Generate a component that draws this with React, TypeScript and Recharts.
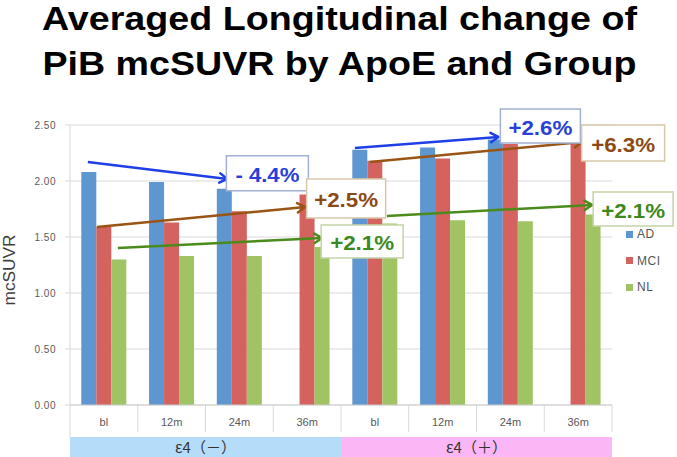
import { BarChart, Bar, XAxis, YAxis, CartesianGrid, Legend, ReferenceLine, ReferenceDot } from 'recharts'

// PiB mcSUVR by ApoE status and diagnostic group

const TIMES = ['bl', '12m', '24m', '36m']
const GROUPS = ['ε4（－）', 'ε4（＋）']
const AD = [2.08, 1.99, 1.93, null, 2.28, 2.3, 2.37, null]
const MCI = [1.59, 1.63, 1.73, 1.88, 2.18, 2.2, 2.33, 2.34]
const NL = [1.3, 1.33, 1.33, 1.41, 1.62, 1.65, 1.64, 1.7]
const Y_TICKS = [0, 0.5, 1, 1.5, 2, 2.5]
const CHANGES = ['- 4.4%', '+2.5%', '+2.1%', '+2.6%', '+6.3%', '+2.1%']

const FONT = '"Liberation Sans", Arial, sans-serif'
const COLORS = { AD: '#5e96d0', MCI: '#d4625e', NL: '#a0c463' }
const INK = {
	blue: { line: '#1f3fe6', text: '#2a3fd8', border: '#a3b1d6' },
	brown: { line: '#9a5416', text: '#8b4a14', border: '#d6c8a8' },
	green: { line: '#4b8b1c', text: '#3c8a1d', border: '#c4d4a6' },
}

const data = GROUPS.flatMap((group, gi) =>
	TIMES.map((time, ti) => {
		const i = gi * TIMES.length + ti
		return { key: `${time}-${gi}`, time, group, AD: AD[i], MCI: MCI[i], NL: NL[i] }
	})
)

// arrows: category anchors + y values, small pixel nudges within the band
const ARROWS = [
	{ from: 'bl-0', to: '24m-0', y1: 2.17, y2: 2.018, dx1: -16, dx2: -12, ink: INK.blue },
	{ from: 'bl-0', to: '36m-0', y1: 1.589, y2: 1.768, dx1: -7, dx2: -2, ink: INK.brown },
	{ from: 'bl-0', to: '36m-0', y1: 1.402, y2: 1.491, dx1: 14, dx2: 15, ink: INK.green },
	{ from: 'bl-1', to: '24m-1', y1: 2.295, y2: 2.393, dx1: -20, dx2: -12, ink: INK.blue },
	{ from: 'bl-1', to: '36m-1', y1: 2.17, y2: 2.348, dx1: -5, dx2: 4, ink: INK.brown },
	{ from: 'bl-1', to: '36m-1', y1: 1.688, y2: 1.786, dx1: 12, dx2: 14, ink: INK.green },
]

const LABEL_BOXES = [
	{ at: '24m-0', y: 2.069, dx: 28, w: 82, h: 35, ink: INK.blue },
	{ at: '36m-0', y: 1.844, dx: 39, w: 79, h: 39, ink: INK.brown },
	{ at: '36m-0', y: 1.46, dx: 55, w: 82, h: 33, ink: INK.green },
	{ at: '24m-1', y: 2.491, dx: 30, w: 80, h: 34, ink: INK.blue },
	{ at: '36m-1', y: 2.339, dx: 45, w: 83, h: 36, ink: INK.brown },
	{ at: '36m-1', y: 1.75, dx: 55, w: 80, h: 34, ink: INK.green },
]

const arrowShape = (a: (typeof ARROWS)[number]) => (p: any) => {
	const x1 = p.x1 + a.dx1
	const x2 = p.x2 + a.dx2
	const { y1, y2 } = p
	const ang = Math.atan2(y2 - y1, x2 - x1)
	const len = 9
	const head = [ang - 0.55, ang + 0.55].map((t) => `${x2 - len * Math.cos(t)},${y2 - len * Math.sin(t)}`)
	return (
		<g>
			<line x1={x1} y1={y1} x2={x2} y2={y2} stroke={a.ink.line} strokeWidth={2.5} />
			<polyline points={`${head[0]} ${x2},${y2} ${head[1]}`} fill="none" stroke={a.ink.line} strokeWidth={2.5} strokeLinejoin="round" strokeLinecap="round" />
		</g>
	)
}

const labelShape = (b: (typeof LABEL_BOXES)[number], text: string) => (p: any) => {
	const cx = p.cx + b.dx
	const cy = p.cy
	return (
		<g>
			<rect x={cx - b.w / 2} y={cy - b.h / 2} width={b.w} height={b.h} fill="#fff" stroke={b.ink.border} strokeWidth={1.5} />
			<text x={cx} y={cy + 8.5} textAnchor="middle" fontFamily={FONT} fontWeight="bold" fontSize={19.5} fill={b.ink.text} textLength={64} lengthAdjust="spacingAndGlyphs">
				{text}
			</text>
		</g>
	)
}

const TimeTick = ({ x, y, payload, index }: any) => {
	const half = payload?.offset ?? 33.9
	const last = index === data.length - 1
	return (
		<g>
			<line x1={x - half} x2={x - half} y1={y} y2={index === 0 ? y + 32 : y + 27} stroke="#d9d9d9" />
			{last && <line x1={x + half} x2={x + half} y1={y} y2={y + 27} stroke="#d9d9d9" />}
			<text x={x} y={y + 21} textAnchor="middle" fontFamily={FONT} fontSize={11} fill="#595959">
				{data[index]?.time}
			</text>
		</g>
	)
}

const GroupTick = ({ x, y, payload, index }: any) => {
	const half = payload?.offset ?? 135.5
	return (
		<g>
			<rect x={x - half} y={y} width={half * 2} height={20} fill={index === 0 ? '#b5dcf9' : '#fbb6f6'} />
			<text x={x} y={y + 16} textAnchor="middle" fontFamily='"Noto Sans CJK JP", sans-serif' fontSize={15} fill="#333">
				{payload.value}
			</text>
		</g>
	)
}

const LegendBox = ({ payload }: any) => (
	<div style={{ fontFamily: FONT, fontSize: 12, color: '#555' }}>
		{(payload || []).map((e: any) => (
			<div key={e.value} style={{ height: 26.5, display: 'flex', alignItems: 'center' }}>
				<span style={{ width: 7, height: 7, background: e.color, marginRight: 4, display: 'inline-block' }} />
				<span style={{ letterSpacing: 0.6 }}>{e.value}</span>
			</div>
		))}
	</div>
)

export default function App() {
	return (
		<div style={{ position: 'absolute', left: 0, top: 0, width: 677, height: 457, background: '#fff', overflow: 'hidden' }}>
			<BarChart
				width={677}
				height={457}
				data={data}
				margin={{ top: 125, right: 65, bottom: 0, left: 30 }}
				barGap={0}
				barCategoryGap="16.7%"
			>
				<CartesianGrid vertical={false} stroke="#d9d9d9" />
				<XAxis dataKey="key" interval={0} height={32} tickSize={0} tickMargin={0} tickLine={false} axisLine={{ stroke: '#cfcfcf' }} tick={TimeTick} />
				<XAxis xAxisId="grp" dataKey="group" allowDuplicatedCategory={false} interval={0} height={20} tickSize={0} tickMargin={0} tickLine={false} axisLine={false} tick={GroupTick} />
				<YAxis
					domain={[0, 2.5]}
					ticks={Y_TICKS}
					interval={0}
					width={40}
					tickSize={5}
					tickMargin={9}
					tickFormatter={(v: number) => v.toFixed(2)}
					axisLine={{ stroke: '#d9d9d9' }}
					tickLine={{ stroke: '#d9d9d9' }}
					tick={{ fontFamily: FONT, fontSize: 10, fill: '#595959', letterSpacing: 0.5 }}
					label={{
						content: ({ viewBox }: any) => (
							<text
								transform={`translate(9, ${viewBox.y + viewBox.height / 2 + 5}) rotate(-90)`}
								textAnchor="middle"
								dominantBaseline="central"
								fontFamily={FONT}
								fontSize={16}
								fill="#404040"
								textLength={71}
								lengthAdjust="spacingAndGlyphs"
							>
								mcSUVR
							</text>
						),
					}}
				/>
				<Bar dataKey="AD" name="AD" fill={COLORS.AD} isAnimationActive={false} />
				<Bar dataKey="MCI" name="MCI" fill={COLORS.MCI} isAnimationActive={false} />
				<Bar dataKey="NL" name="NL" fill={COLORS.NL} isAnimationActive={false} />
				<Legend layout="vertical" align="center" verticalAlign="middle" wrapperStyle={{ left: 626, top: 221, width: 50 }} content={LegendBox} />
				{ARROWS.map((a, i) => (
					<ReferenceLine
						key={`arrow-${i}`}
						segment={[{ x: a.from, y: a.y1 }, { x: a.to, y: a.y2 }]}
						ifOverflow="visible"
						shape={arrowShape(a)}
					/>
				))}
				{LABEL_BOXES.map((b, i) => (
					<ReferenceDot key={`label-${i}`} x={b.at} y={b.y} r={0} ifOverflow="visible" shape={labelShape(b, CHANGES[i])} />
				))}
			</BarChart>
			<svg width={677} height={100} style={{ position: 'absolute', left: 0, top: 0, pointerEvents: 'none' }}>
				<text x={339.5} y={30} textAnchor="middle" fontFamily={FONT} fontWeight="bold" fontSize={34} fill="#000" textLength={595} lengthAdjust="spacingAndGlyphs">
					Averaged Longitudinal change of
				</text>
				<text x={339.5} y={75} textAnchor="middle" fontFamily={FONT} fontWeight="bold" fontSize={34} fill="#000" textLength={594} lengthAdjust="spacingAndGlyphs">
					PiB mcSUVR by ApoE and Group
				</text>
			</svg>
		</div>
	)
}
